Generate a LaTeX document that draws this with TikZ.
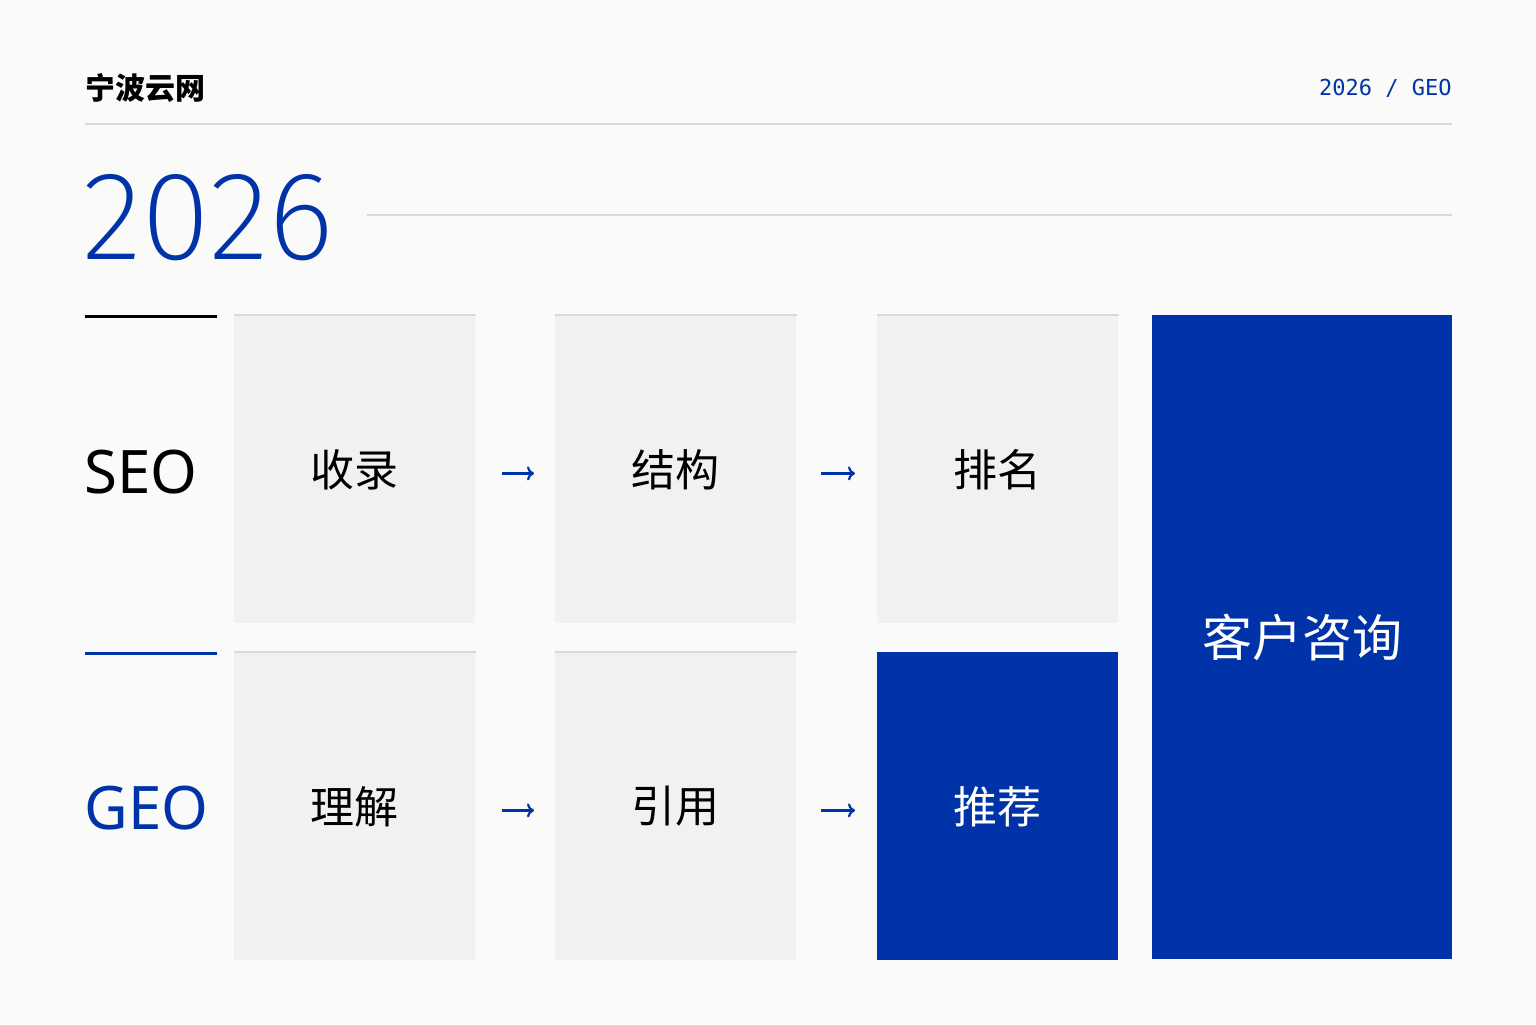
\documentclass[tikz,border=0pt]{standalone}
\usepackage{fontspec}
\setmainfont{Noto Sans CJK SC}
\newfontfamily\latinfont{Noto Sans}
\newfontfamily\yearfont{Fira Sans ExtraLight}
\newfontfamily\monofont{DejaVu Sans Mono}
\usetikzlibrary{arrows.meta,positioning}
\definecolor{pageback}{HTML}{FAFAF8}
\definecolor{cardgrey}{HTML}{F1F1EF}
\definecolor{rulegrey}{HTML}{D9D9D7}
\definecolor{navy}{HTML}{0033A7}
\tikzset{
  card/.style={fill=cardgrey, draw=none, anchor=north west, minimum width=120.5pt, minimum height=154pt, inner sep=0pt, font=\fontsize{22pt}{22pt}\selectfont},
  bluecard/.style={card, fill=navy, text=white},
  topline/.style={draw=rulegrey, line width=0.6pt},
  flow/.style={draw=navy, line width=1.1pt, -{To[length=3.5pt,width=7pt]}},
  rowlabel/.style={anchor=west, inner sep=0pt, font=\latinfont\fontsize{30pt}{30pt}\selectfont}
}
\begin{document}
\begin{tikzpicture}[x=0.5pt,y=-0.5pt]
        \useasboundingbox[fill=pageback] (0,0) rectangle (1536,1024);
        %%Header
        \node[anchor=west, inner sep=0pt, font=\bfseries\fontsize{15pt}{15pt}\selectfont] (brand) at (85,88) {宁波云网};
        \node[anchor=east, inner sep=0pt, text=navy, font=\monofont\fontsize{11pt}{11pt}\selectfont] (tag) at (1452,88) {2026 / GEO};
        \draw[topline] (85,124) to (1452,124);
        %%Year
        \node[anchor=south west, inner sep=0pt, text=navy, font=\yearfont\fontsize{63pt}{63pt}\selectfont] (year) at (82,261) {2026};
        \draw[topline] (367,215) to (1452,215);
        %%Row labels
        \draw[line width=1.5pt, black] (85,316) to (217,316);
        \node[rowlabel] (seo) at (84,472) {SEO};
        \draw[line width=1.5pt, navy] (85,653) to (217,653);
        \node[rowlabel, text=navy] (geo) at (84,808) {GEO};
        %%SEO row
        \node[card] (shoulu) at (234,315) {\raisebox{-3pt}{收录}};
        \node[card] (jiegou) at (555,315) {\raisebox{-3pt}{结构}};
        \node[card] (paiming) at (877,315) {\raisebox{-3pt}{排名}};
        %%GEO row
        \node[card] (lijie) at (234,652) {\raisebox{-3pt}{理解}};
        \node[card] (yinyong) at (555,652) {\raisebox{-3pt}{引用}};
        \node[bluecard] (tuijian) at (877,652) {\raisebox{-3pt}{推荐}};
        %%Result
        \node[bluecard, minimum width=150pt, minimum height=322pt, font=\fontsize{25pt}{25pt}\selectfont] (zixun) at (1152,315) {\raisebox{-3pt}{客户咨询}};
        %%Top borders
        \foreach \c in {shoulu,jiegou,paiming,lijie,yinyong}
          \draw[topline] (\c.north west) to (\c.north east);
        %%Arrows
        \draw[flow] ([xshift=13pt,yshift=-2pt]shoulu.east) to ([xshift=-10.5pt,yshift=-2pt]jiegou.west);
        \draw[flow] ([xshift=12pt,yshift=-2pt]jiegou.east) to ([xshift=-11pt,yshift=-2pt]paiming.west);
        \draw[flow] ([xshift=13pt,yshift=-2pt]lijie.east) to ([xshift=-10.5pt,yshift=-2pt]yinyong.west);
        \draw[flow] ([xshift=12pt,yshift=-2pt]yinyong.east) to ([xshift=-11pt,yshift=-2pt]tuijian.west);
\end{tikzpicture}
\end{document}
